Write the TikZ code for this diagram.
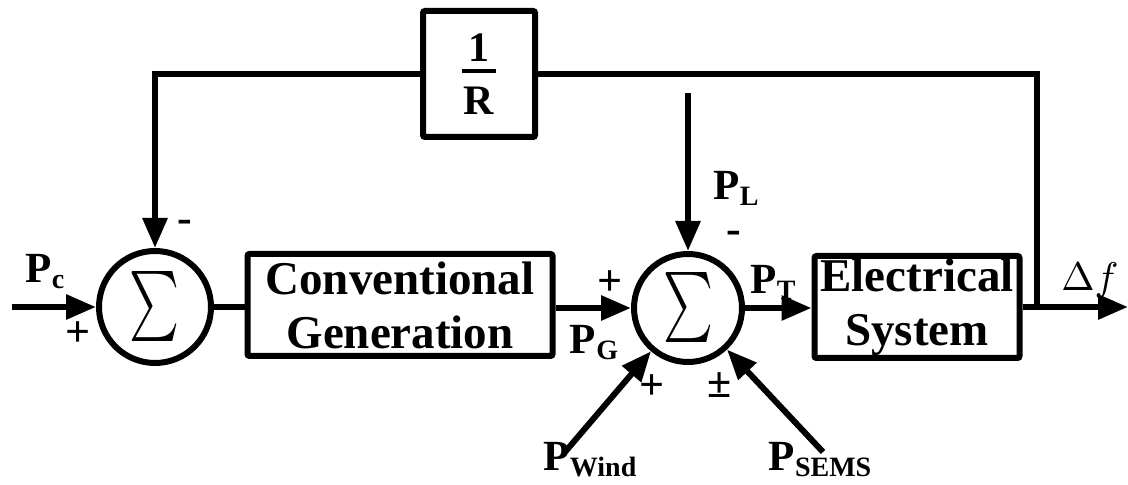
\documentclass[tikz,border=0pt]{standalone}
\usepackage{fontspec}
\setmainfont{Liberation Serif}
\usetikzlibrary{arrows.meta}
\newcommand\Psub[1]{P\raisebox{-0.3ex}{\fontsize{14}{14}\selectfont #1}}
\newcommand\bigsum{\resizebox*{25pt}{35pt}{$\sum$}}
\begin{document}
\begin{tikzpicture}[x=0.5pt,y=-0.5pt,
  line width=3pt,
  arr/.style={-{Triangle[length=15pt,width=12pt]}},
  blk/.style={draw,rectangle,rounded corners=1pt,align=center,inner sep=0pt,
    font=\fontsize{23.5}{25}\selectfont\bfseries},
  sumnode/.style={draw,circle,inner sep=0pt},
  lbl/.style={font=\fontsize{21.5}{22}\selectfont\bfseries,inner sep=0pt},
  sgn/.style={font=\fontsize{22}{22}\selectfont\bfseries,inner sep=0pt}]
\useasboundingbox (0,0) rectangle (1128,485);
% blocks
\node[sumnode,minimum size=56pt] (s1) at (155,307) {\bigsum};
\node[sumnode,minimum size=54pt] (s2) at (688,308) {\bigsum};
\node[blk,minimum width=152.5pt,minimum height=51pt] (conv) at (400,305) {Conventional\\[2pt]Generation};
\node[blk,minimum width=102.5pt,minimum height=51pt] (elec) at (917,307) {Electrical\\[2pt]System};
\node[blk,minimum width=56pt,minimum height=63pt,font=\fontsize{21}{22}\selectfont\bfseries] (rb) at (479,74)
  {\shortstack{1\\[1pt]\rule{17pt}{2pt}\\[4pt]R}};
% coordinates
\coordinate (pcin) at (12,307);
\coordinate (fout) at (1128,307);
\coordinate (tap) at (1037,307);
\coordinate (plin) at (688,93);
\coordinate (win) at (565,452);
\coordinate (sin) at (823,452);
% connectors
\draw[arr] (pcin) -- (s1.west);
\draw (s1.east) -- (s1.east-|conv.west);
\draw[arr] (s2.west-|conv.east) -- (s2.west);
\draw[arr] (s2.east) -- (s2.east-|elec.west);
\draw[arr] (elec.east|-tap) -- (fout);
\draw (tap) |- (rb.east);
\draw[arr] (rb.west) -| (s1.north);
\draw[arr] (plin) -- (s2.north);
\draw[arr] (win) -- (s2);
\draw[arr] (sin) -- (s2);
% labels
\node[lbl] (lpc) at (45,272) {\Psub{c}};
\node[sgn] (lp1) at (78,334) {+};
\node[sgn] (lm1) at (185,226) {-};
\node[sgn] (lp2) at (610,283) {+};
\node[lbl] (lpg) at (594,343) {\Psub{G}};
\node[sgn] (lm2) at (734,237) {-};
\node[lbl] (lpl) at (736,188) {\Psub{L}};
\node[lbl] (lpt) at (773,282) {\Psub{T}};
\node[sgn] (lp3) at (652,387) {+};
\node[sgn] (lpm) at (720,385) {±};
\node[lbl] (lpw) at (590,460) {\Psub{Wind}};
\node[lbl] (lps) at (820,460) {\Psub{SEMS}};
\node[inner sep=0pt] (ldf) at (1090,281) {\scalebox{2}{$\Delta f$}};
\end{tikzpicture}
\end{document}
